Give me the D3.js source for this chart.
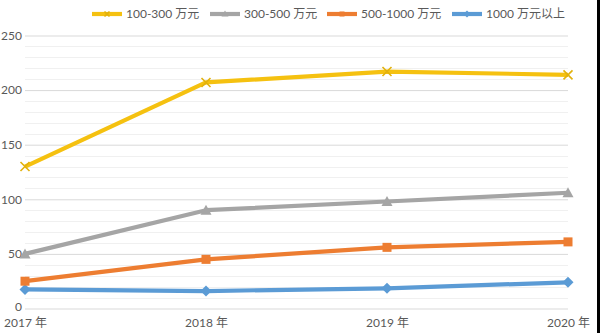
<!DOCTYPE html>
<html>
<head>
<meta charset="utf-8">
<script src="https://cdn.jsdelivr.net/npm/d3@7"></script>
<style>
  html, body { margin: 0; padding: 0; background: #fff; }
  svg { display: block; }
  text { font-family: Lato, "Noto Sans CJK SC", sans-serif; fill: #595959; }
</style>
</head>
<body>
<svg id="chart" width="600" height="333"></svg>
<script>
// Years on the category axis
const years = ["2017 年", "2018 年", "2019 年", "2020 年"];

// Enterprise counts per revenue band
const band100to300 = [130, 207, 217, 214];
const band300to500 = [50, 90, 98, 106];
const band500to1000 = [25, 45, 56, 61];
const bandOver1000 = [17.5, 16, 18.5, 24];

const seriesNames = ["100-300 万元", "300-500 万元", "500-1000 万元", "1000 万元以上"];
const seriesColors = ["#f5c110", "#a5a5a5", "#ed7d31", "#5b9bd5"];
const seriesMarkers = ["cross", "triangle", "square", "diamond"];

const yTicks = [0, 50, 100, 150, 200, 250];
const yMinorStep = 10;

const series = [band100to300, band300to500, band500to1000, bandOver1000].map((vals, i) => ({
  name: seriesNames[i], color: seriesColors[i], marker: seriesMarkers[i], values: vals
}));

const svg = d3.select("#chart");
const W = 600, H = 333;
const plot = { left: 25, right: 568, top: 35.5, bottom: 308.5 };

const x = d3.scalePoint().domain(years).range([plot.left, plot.right]);
const y = d3.scaleLinear().domain([0, 250]).range([plot.bottom, plot.top]);

// Minor gridlines
const minor = d3.range(0, 251, yMinorStep).filter(v => v % 50 !== 0);
svg.append("g").selectAll("line").data(minor).join("line")
  .attr("x1", plot.left).attr("x2", plot.right)
  .attr("y1", d => Math.round(y(d)) + 0.5).attr("y2", d => Math.round(y(d)) + 0.5)
  .attr("stroke", "#f0f0f0").attr("stroke-width", 1);

// Major gridlines and value labels via the axis generator
const yAxis = d3.axisLeft(y).tickValues(yTicks).tickSize(-(plot.right - plot.left)).tickPadding(3);
const gy = svg.append("g").attr("transform", `translate(${plot.left},0)`).call(yAxis);
gy.select(".domain").remove();
gy.selectAll(".tick line").attr("stroke", "#d9d9d9");
gy.selectAll(".tick text").attr("font-size", 12).attr("font-family", "Lato, sans-serif").attr("fill", "#595959");
// lift the zero label a touch so it clears the year labels
gy.selectAll(".tick text").filter(d => d === 0).attr("dy", "0.2em");

// Category labels
const xAxis = d3.axisBottom(x).tickSize(0).tickPadding(10);
const gx = svg.append("g").attr("transform", `translate(0,${plot.bottom})`).call(xAxis);
gx.select(".domain").remove();
gx.selectAll(".tick text").attr("font-size", 12).attr("font-family", "Lato, 'Noto Sans CJK SC', sans-serif").attr("fill", "#595959");

// Marker drawing
function drawMarker(g, type, color, size) {
  const s = size;
  if (type === "cross") {
    g.append("path").attr("d", `M${-s/2},${-s/2}L${s/2},${s/2}M${-s/2},${s/2}L${s/2},${-s/2}`)
      .attr("stroke", "#e2b10c").attr("stroke-width", 1.6).attr("fill", "none");
  } else if (type === "triangle") {
    g.append("path").attr("d", `M0,${-s/2 - 1}L${s/2 + 1},${s/2}L${-s/2 - 1},${s/2}Z`).attr("fill", color);
  } else if (type === "square") {
    g.append("rect").attr("x", -s/2).attr("y", -s/2).attr("width", s).attr("height", s).attr("fill", color);
  } else if (type === "diamond") {
    g.append("path").attr("d", `M0,${-s/2 - 1}L${s/2 + 1},0L0,${s/2 + 1}L${-s/2 - 1},0Z`).attr("fill", color);
  }
}

const line = d3.line().x((d, i) => x(years[i])).y(d => y(d));

// Draw from bottom series up so the top band lies over the others
series.slice().reverse().forEach(s => {
  svg.append("path").datum(s.values).attr("d", line)
    .attr("fill", "none").attr("stroke", s.color).attr("stroke-width", 4.2)
    .attr("stroke-linejoin", "round");
  s.values.forEach((v, i) => {
    const g = svg.append("g").attr("transform", `translate(${x(years[i])},${y(v)})`);
    drawMarker(g, s.marker, s.color, 9);
  });
});

// Legend
const legendX = [92, 210, 327, 452];
const legend = svg.append("g").attr("transform", "translate(0,14)");
series.forEach((s, i) => {
  const g = legend.append("g").attr("transform", `translate(${legendX[i]},0)`);
  g.append("line").attr("x1", 0).attr("x2", 30).attr("y1", 0).attr("y2", 0)
    .attr("stroke", s.color).attr("stroke-width", 4.2);
  const m = g.append("g").attr("transform", "translate(15,0)");
  drawMarker(m, s.marker, s.color, 5);
  g.append("text").attr("x", 34).attr("y", 0).attr("dy", "0.35em")
    .attr("font-size", 12).text(s.name);
});

// Dark edge on the right side
svg.append("rect").attr("x", 597).attr("y", 0).attr("width", 3).attr("height", H).attr("fill", "#000");
</script>
</body>
</html>
